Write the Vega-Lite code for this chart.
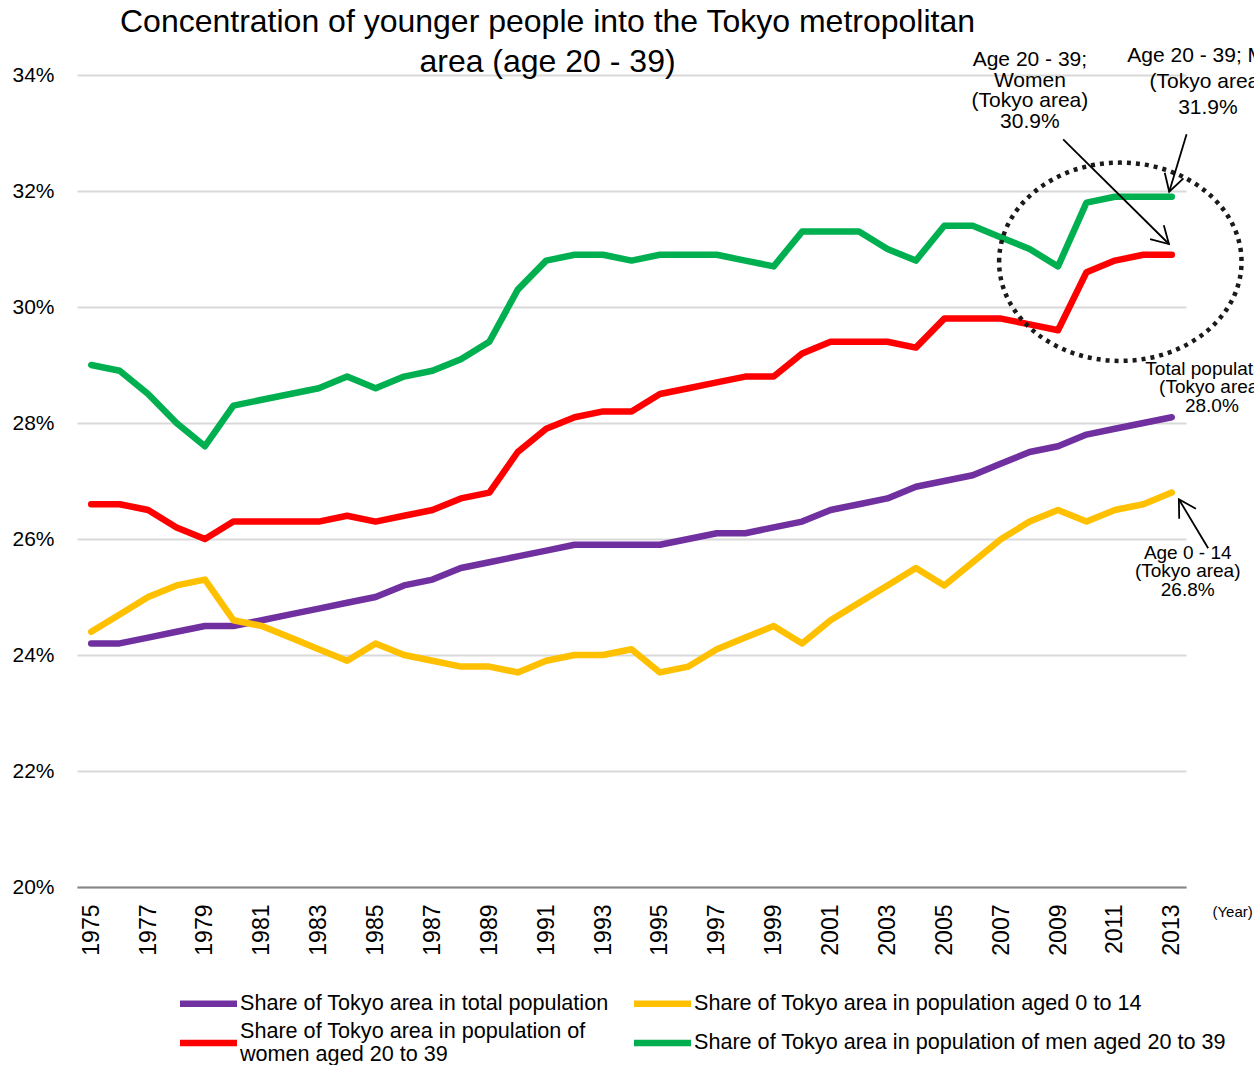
{
  "$schema": "https://vega.github.io/schema/vega-lite/v6.json",
  "width": 1109,
  "height": 812,
  "autosize": {"type": "none"},
  "padding": {"left": 77, "top": 75, "right": 68, "bottom": 178},
  "background": "white",
  "title": {
    "text": ["Concentration of younger people into the Tokyo metropolitan", "area (age 20 - 39)"],
    "font": "Liberation Sans",
    "fontSize": 32,
    "fontWeight": "normal",
    "color": "black",
    "anchor": "middle",
    "dx": -84,
    "dy": 20,
    "offset": -14,
    "lineHeight": 40
  },
  "config": {
    "font": "Liberation Sans",
    "view": {"stroke": null},
    "axis": {"labelFont": "Liberation Sans", "titleFont": "Liberation Sans"},
    "legend": {
      "orient": "none",
      "legendX": 107,
      "legendY": 904,
      "columns": 2,
      "symbolType": "M -1.357 0 L 1.357 0",
      "symbolSize": 1764,
      "symbolStrokeWidth": 6.5,
      "labelFont": "Liberation Sans",
      "labelFontSize": 21.6,
      "labelColor": "black",
      "labelLimit": 800,
      "labelOffset": 7,
      "columnPadding": 12,
      "rowPadding": 1.5,
      "symbolOffset": 0,
      "padding": 0
    }
  },
  "datasets": {
    "shares": [
      {"year": 1975, "total": 24.2, "age0_14": 24.4, "women": 26.6, "men": 29.0},
      {"year": 1976, "total": 24.2, "age0_14": 24.7, "women": 26.6, "men": 28.9},
      {"year": 1977, "total": 24.3, "age0_14": 25.0, "women": 26.5, "men": 28.5},
      {"year": 1978, "total": 24.4, "age0_14": 25.2, "women": 26.2, "men": 28.0},
      {"year": 1979, "total": 24.5, "age0_14": 25.3, "women": 26.0, "men": 27.6},
      {"year": 1980, "total": 24.5, "age0_14": 24.6, "women": 26.3, "men": 28.3},
      {"year": 1981, "total": 24.6, "age0_14": 24.5, "women": 26.3, "men": 28.4},
      {"year": 1982, "total": 24.7, "age0_14": 24.3, "women": 26.3, "men": 28.5},
      {"year": 1983, "total": 24.8, "age0_14": 24.1, "women": 26.3, "men": 28.6},
      {"year": 1984, "total": 24.9, "age0_14": 23.9, "women": 26.4, "men": 28.8},
      {"year": 1985, "total": 25.0, "age0_14": 24.2, "women": 26.3, "men": 28.6},
      {"year": 1986, "total": 25.2, "age0_14": 24.0, "women": 26.4, "men": 28.8},
      {"year": 1987, "total": 25.3, "age0_14": 23.9, "women": 26.5, "men": 28.9},
      {"year": 1988, "total": 25.5, "age0_14": 23.8, "women": 26.7, "men": 29.1},
      {"year": 1989, "total": 25.6, "age0_14": 23.8, "women": 26.8, "men": 29.4},
      {"year": 1990, "total": 25.7, "age0_14": 23.7, "women": 27.5, "men": 30.3},
      {"year": 1991, "total": 25.8, "age0_14": 23.9, "women": 27.9, "men": 30.8},
      {"year": 1992, "total": 25.9, "age0_14": 24.0, "women": 28.1, "men": 30.9},
      {"year": 1993, "total": 25.9, "age0_14": 24.0, "women": 28.2, "men": 30.9},
      {"year": 1994, "total": 25.9, "age0_14": 24.1, "women": 28.2, "men": 30.8},
      {"year": 1995, "total": 25.9, "age0_14": 23.7, "women": 28.5, "men": 30.9},
      {"year": 1996, "total": 26.0, "age0_14": 23.8, "women": 28.6, "men": 30.9},
      {"year": 1997, "total": 26.1, "age0_14": 24.1, "women": 28.7, "men": 30.9},
      {"year": 1998, "total": 26.1, "age0_14": 24.3, "women": 28.8, "men": 30.8},
      {"year": 1999, "total": 26.2, "age0_14": 24.5, "women": 28.8, "men": 30.7},
      {"year": 2000, "total": 26.3, "age0_14": 24.2, "women": 29.2, "men": 31.3},
      {"year": 2001, "total": 26.5, "age0_14": 24.6, "women": 29.4, "men": 31.3},
      {"year": 2002, "total": 26.6, "age0_14": 24.9, "women": 29.4, "men": 31.3},
      {"year": 2003, "total": 26.7, "age0_14": 25.2, "women": 29.4, "men": 31.0},
      {"year": 2004, "total": 26.9, "age0_14": 25.5, "women": 29.3, "men": 30.8},
      {"year": 2005, "total": 27.0, "age0_14": 25.2, "women": 29.8, "men": 31.4},
      {"year": 2006, "total": 27.1, "age0_14": 25.6, "women": 29.8, "men": 31.4},
      {"year": 2007, "total": 27.3, "age0_14": 26.0, "women": 29.8, "men": 31.2},
      {"year": 2008, "total": 27.5, "age0_14": 26.3, "women": 29.7, "men": 31.0},
      {"year": 2009, "total": 27.6, "age0_14": 26.5, "women": 29.6, "men": 30.7},
      {"year": 2010, "total": 27.8, "age0_14": 26.3, "women": 30.6, "men": 31.8},
      {"year": 2011, "total": 27.9, "age0_14": 26.5, "women": 30.8, "men": 31.9},
      {"year": 2012, "total": 28.0, "age0_14": 26.6, "women": 30.9, "men": 31.9},
      {"year": 2013, "total": 28.1, "age0_14": 26.8, "women": 30.9, "men": 31.9}
    ]
  },
  "layer": [
    {
      "data": {"name": "shares"},
      "transform": [{"fold": ["total", "age0_14", "women", "men"], "as": ["series", "value"]}],
      "mark": {"type": "line", "strokeWidth": 6.5, "strokeCap": "round", "strokeJoin": "round"},
      "encoding": {
        "x": {
          "field": "year", "type": "quantitative",
          "scale": {"domain": [1974.5, 2013.5], "nice": false, "zero": false},
          "axis": {
            "values": [1975, 1977, 1979, 1981, 1983, 1985, 1987, 1989, 1991, 1993, 1995, 1997, 1999, 2001, 2003, 2005, 2007, 2009, 2011, 2013],
            "format": "d",
            "labelAngle": 270,
            "labelAlign": "right",
            "labelBaseline": "middle",
            "labelFontSize": 23,
            "labelColor": "black",
            "labelPadding": 17,
            "labelFlush": false,
            "labelOverlap": false,
            "ticks": false,
            "grid": false,
            "domainColor": "#868686",
            "domainWidth": 2,
            "title": "(Year)",
            "titleFontSize": 15,
            "titleFontWeight": "normal",
            "titleColor": "black",
            "titleAngle": 0,
            "titleAlign": "left",
            "titleBaseline": "middle",
            "titleX": 1135,
            "titleY": 24
          }
        },
        "y": {
          "field": "value", "type": "quantitative",
          "scale": {"domain": [20, 34], "nice": false, "zero": false},
          "axis": {
            "values": [20, 22, 24, 26, 28, 30, 32, 34],
            "labelExpr": "datum.value + '%'",
            "labelFontSize": 21,
            "labelColor": "black",
            "labelPadding": 23,
            "ticks": false,
            "domain": false,
            "grid": true,
            "gridColor": "#d9d9d9",
            "gridWidth": 2,
            "title": null
          }
        },
        "color": {
          "field": "series", "type": "nominal",
          "scale": {"domain": ["total", "women", "age0_14", "men"], "range": ["#7030a0", "#ff0000", "#ffc000", "#00b050"]},
          "legend": {
            "title": null,
            "labelExpr": "datum.label == 'total' ? 'Share of Tokyo area in total population' : datum.label == 'age0_14' ? 'Share of Tokyo area in population aged 0 to 14' : datum.label == 'women' ? ['Share of Tokyo area in population of', 'women aged 20 to 39'] : 'Share of Tokyo area in population of men aged 20 to 39'",
            "encode": {"labels": {"update": {"lineHeight": {"value": 23}, "dy": {"signal": "datum.value === 'women' ? -11.5 : 0"}}}}
          }
        }
      }
    },
    {
      "data": {"values": [{"year": 2011.19, "value": 30.78}]},
      "mark": {"type": "point", "shape": "M -1 0 A 1 0.818 0 1 1 1 0 A 1 0.818 0 1 1 -1 0 Z", "size": 58760, "filled": false, "color": "#1a1a1a", "strokeWidth": 4.5, "strokeDash": [4, 5], "opacity": 1},
      "encoding": {"x": {"field": "year", "type": "quantitative"}, "y": {"field": "value", "type": "quantitative"}}
    },
    {
      "data": {"values": [
        {"arrow": "women", "year": 2009.18, "value": 32.89, "year2": 2012.9, "value2": 31.086},
        {"arrow": "men", "year": 2013.52, "value": 32.98, "year2": 2012.91, "value2": 31.988},
        {"arrow": "age0_14", "year": 2014.28, "value": 25.84, "year2": 2013.25, "value2": 26.684}
      ]},
      "mark": {"type": "rule", "color": "black", "strokeWidth": 1.8},
      "encoding": {
        "x": {"field": "year", "type": "quantitative"},
        "y": {"field": "value", "type": "quantitative"},
        "x2": {"field": "year2"},
        "y2": {"field": "value2"}
      }
    },
    {
      "data": {"values": [
        {"arrow": "women", "year": 2012.9, "value": 31.086, "direction": 134.7},
        {"arrow": "men", "year": 2012.91, "value": 31.988, "direction": 196.8},
        {"arrow": "age0_14", "year": 2013.25, "value": 26.684, "direction": 329.1}
      ]},
      "mark": {"type": "point", "shape": "M -0.5 0.866 L 0 0 L 0.5 0.866", "size": 1521, "filled": false, "color": "black", "strokeWidth": 1.8, "opacity": 1},
      "encoding": {
        "x": {"field": "year", "type": "quantitative"},
        "y": {"field": "value", "type": "quantitative"},
        "angle": {"field": "direction", "type": "quantitative", "scale": null}
      }
    },
    {
      "data": {"values": [{"year": 2008.01, "value": 34.259, "label": ["Age 20 - 39;", "Women", "(Tokyo area)", "30.9%"]}]},
      "mark": {"type": "text", "fontSize": 21, "lineHeight": 20.7, "align": "center", "baseline": "middle", "color": "black", "font": "Liberation Sans"},
      "encoding": {"x": {"field": "year", "type": "quantitative"}, "y": {"field": "value", "type": "quantitative"}, "text": {"field": "label"}}
    },
    {
      "data": {"values": [{"year": 2014.27, "value": 34.328, "label": ["Age 20 - 39; Men", "(Tokyo area)", "31.9%"]}]},
      "mark": {"type": "text", "fontSize": 21, "lineHeight": 26, "align": "center", "baseline": "middle", "color": "black", "font": "Liberation Sans"},
      "encoding": {"x": {"field": "year", "type": "quantitative"}, "y": {"field": "value", "type": "quantitative"}, "text": {"field": "label"}}
    },
    {
      "data": {"values": [
        {"year": 2014.41, "value": 28.931, "label": ["Total population", "(Tokyo area)", "28.0%"]},
        {"year": 2013.56, "value": 25.759, "label": ["Age 0 - 14", "(Tokyo area)", "26.8%"]}
      ]},
      "mark": {"type": "text", "fontSize": 19, "lineHeight": 18.3, "align": "center", "baseline": "middle", "color": "black", "font": "Liberation Sans"},
      "encoding": {"x": {"field": "year", "type": "quantitative"}, "y": {"field": "value", "type": "quantitative"}, "text": {"field": "label"}}
    }
  ]
}
